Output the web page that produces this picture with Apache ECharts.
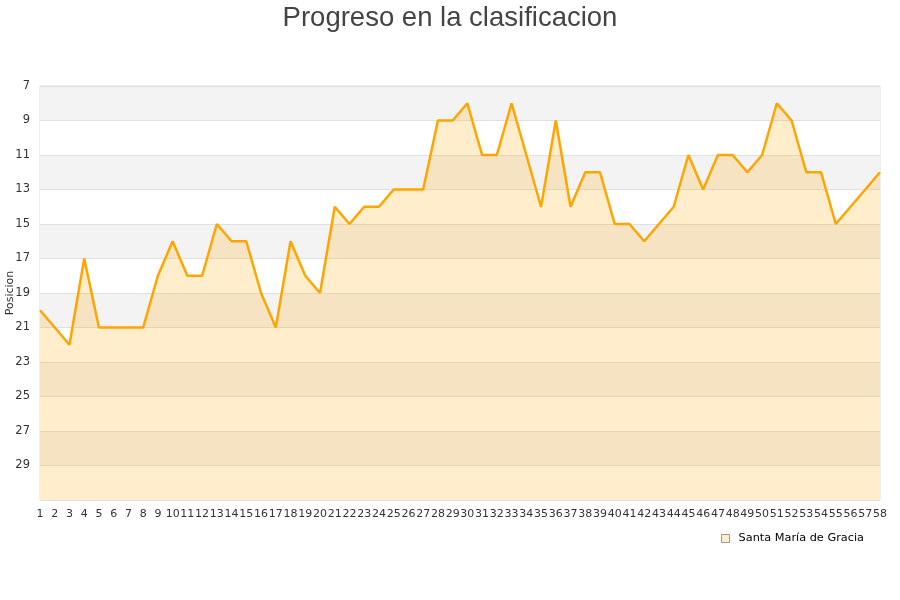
<!DOCTYPE html>
<html>
<head>
<meta charset="utf-8">
<script src="https://cdn.jsdelivr.net/npm/echarts@6/dist/echarts.min.js"></script>
<style>
  html, body { margin: 0; padding: 0; background: #fff; }
  #chart { width: 900px; height: 600px; }
</style>
</head>
<body>
<div id="chart"></div>
<script>
var jornadas = [];
for (var j = 1; j <= 58; j++) { jornadas.push(String(j)); }

var posiciones = [
  20, 21, 22, 17, 21, 21, 21, 21, 18, 16,
  18, 18, 15, 16, 16, 19, 21, 16, 18, 19,
  14, 15, 14, 14, 13, 13, 13, 9, 9, 8,
  11, 11, 8, 11, 14, 9, 14, 12, 12, 15,
  15, 16, 15, 14, 11, 13, 11, 11, 12, 11,
  8, 9, 12, 12, 15, 14, 13, 12
];

var equipo = 'Santa María de Gracia';

var myChart = echarts.init(document.getElementById('chart'));
var option;

option = {
  animation: false,
  title: {  // titulo arriba centrado
    text: 'Progreso en la clasificacion',
    left: 'center',
    top: -1,
    textStyle: {
      fontFamily: 'Liberation Sans',
      fontSize: 27.5,
      fontWeight: 'normal',
      color: '#444'
    }
  },
  legend: {
    data: [equipo],
    right: 31,
    top: 528,
    icon: 'rect',
    itemWidth: 8,
    itemHeight: 8,
    itemStyle: {
      color: '#ffeecc',
      borderColor: '#999',
      borderWidth: 1
    },
    textStyle: {
      fontFamily: 'DejaVu Sans',
      fontSize: 11.3,
      color: '#000',
      padding: [0, 0, 0, 4]
    }
  },
  grid: {
    left: 40,
    right: 20,
    top: 86,
    bottom: 100,
    outerBoundsMode: 'none',
    containLabel: false,
    show: true,
    borderColor: '#ddd',
    borderWidth: 1
  },
  xAxis: {
    type: 'category',
    data: jornadas,
    boundaryGap: false,
    axisLine: { show: false },
    axisTick: { show: false },
    splitLine: { show: false },
    axisLabel: {
      interval: 0,
      margin: 9,
      fontFamily: 'DejaVu Sans',
      fontSize: 11,
      color: '#333'
    }
  },
  yAxis: {
    type: 'value',
    inverse: true,
    min: 7,
    max: 31,
    interval: 2,
    name: 'Posicion',
    nameLocation: 'middle',
    nameGap: 24,
    nameMoveOverlap: false,
    nameTextStyle: {
      fontFamily: 'DejaVu Sans',
      fontSize: 11,
      color: '#333'
    },
    axisLine: { show: false },
    axisTick: { show: false },
    axisLabel: {
      fontFamily: 'DejaVu Sans',
      fontSize: 11.5,
      color: '#333',
      margin: 10,
      formatter: function (v) { return v >= 31 ? '' : v; }
    },
    splitLine: { lineStyle: { color: '#e0e0e0' } },
    splitArea: {
      show: true,
      areaStyle: { color: ['#f3f3f3', '#ffffff'] }
    }
  },
  series: [
    {
      name: equipo,
      type: 'line',
      data: posiciones,
      symbol: 'none',
      lineStyle: { color: '#ffa500', width: 2.5 },
      itemStyle: { color: '#ffeecc' },
      areaStyle: {
        color: '#ffa500',
        opacity: 0.2,
        origin: 'end'
      }
    }
  ]
};

option && myChart.setOption(option);
</script>
</body>
</html>
